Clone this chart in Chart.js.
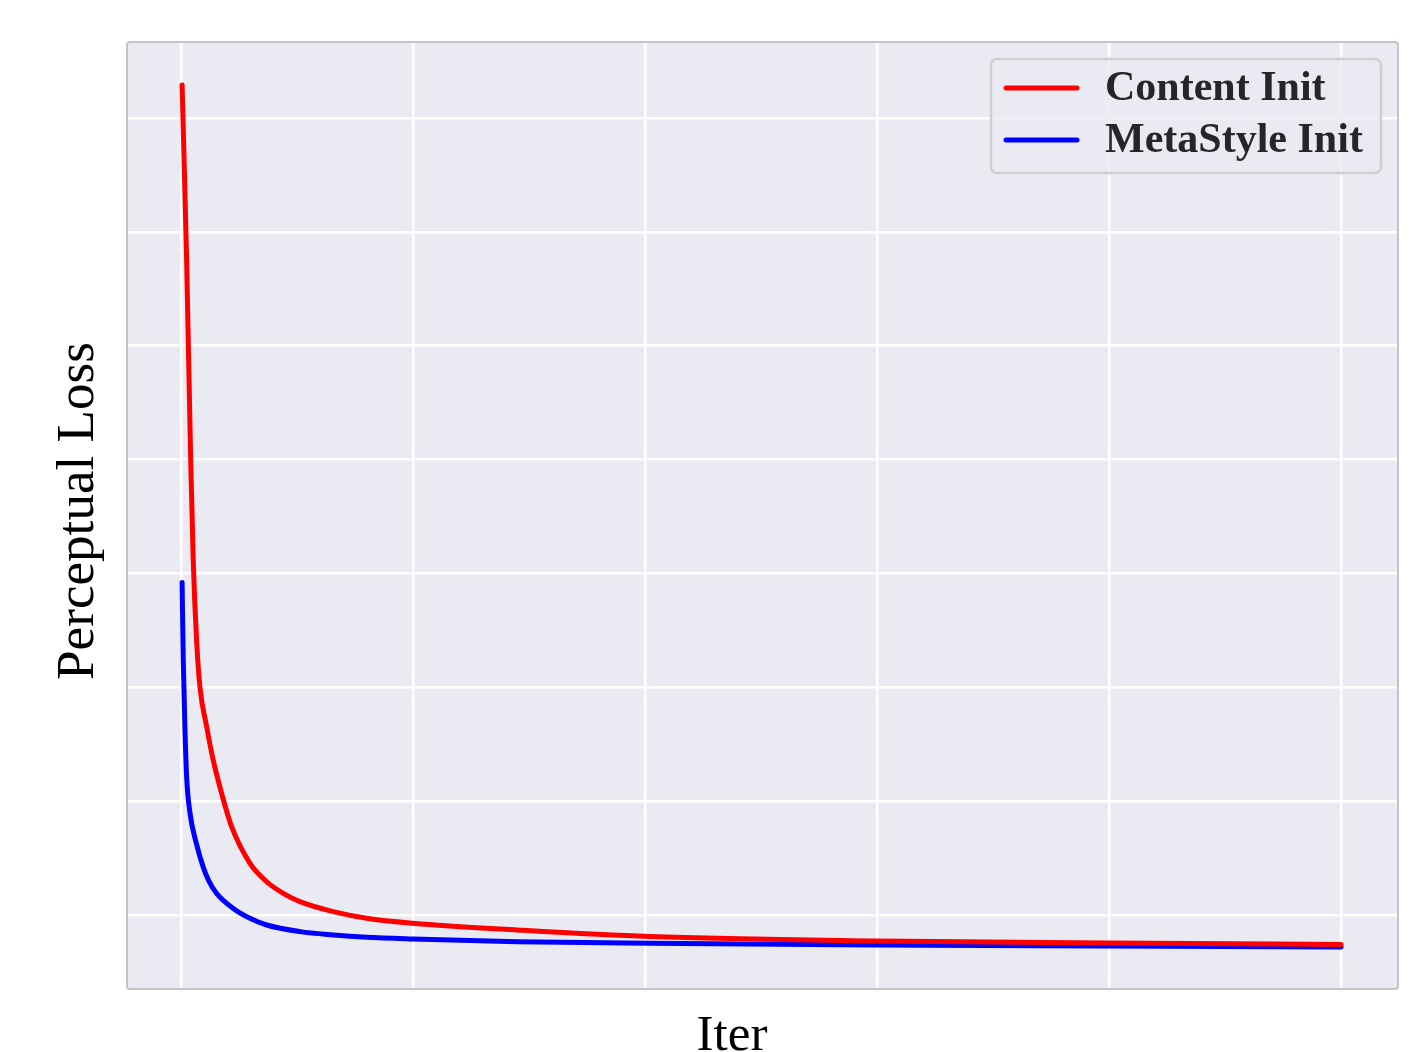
<!DOCTYPE html>
<html>
<head>
<meta charset="utf-8">
<script src="https://cdn.jsdelivr.net/npm/chart.js@4/dist/chart.umd.min.js"></script>
<style>
  html, body { margin:0; padding:0; background:#fff; }
  #wrap { width:1424px; height:1052px; position:relative; }
</style>
</head>
<body>
<div id="wrap"><canvas id="lossChart"></canvas></div>
<script>
// values (loss in grid units, no labels shown)
const xTicks = [0, 200, 400, 600, 800, 1000];
const yTicks = [1, 2, 3, 4, 5, 6, 7, 8];

const contentIter = [1, 4.9, 8.4, 10.6, 13.5, 16.4, 22.2, 27.8, 35.1, 43.7, 59.5, 73.9, 88.2, 102.6, 131.3, 160, 200, 290, 404, 600, 800, 1000];
const contentLoss = [8.29, 6.75, 4.99, 4.11, 3.41, 3.0, 2.652, 2.36, 2.067, 1.775, 1.453, 1.292, 1.19, 1.117, 1.029, 0.971, 0.927, 0.868, 0.81, 0.772, 0.755, 0.741];

const metaIter = [1, 2, 3.4, 4.9, 7.8, 13.5, 19.2, 24, 30.8, 45.1, 59.5, 73.9, 102.6, 131.3, 160, 200, 290, 404, 600, 800, 1000];
const metaLoss = [3.92, 3.237, 2.652, 2.213, 1.895, 1.62, 1.42, 1.3, 1.189, 1.058, 0.971, 0.912, 0.854, 0.825, 0.805, 0.79, 0.766, 0.752, 0.737, 0.728, 0.719];

const seriesLabels = ["Content Init", "MetaStyle Init"];
const seriesColors = ["#ff0000", "#0000ff"];

const toPts = (xs, ys) => xs.map((x, i) => ({ x, y: ys[i] }));

// grey plot background + frame
const panelPlugin = {
  id: "panel",
  beforeDraw(chart) {
    const { ctx, chartArea: a } = chart;
    ctx.save();
    ctx.fillStyle = "#eaeaf2";
    ctx.fillRect(a.left, a.top, a.right - a.left, a.bottom - a.top);
    ctx.restore();
  },
  afterDatasetsDraw(chart) {
    const { ctx, chartArea: a } = chart;
    ctx.save();
    ctx.strokeStyle = "#c4c4c8";
    ctx.lineWidth = 2;
    ctx.beginPath();
    ctx.roundRect(a.left, a.top, a.right - a.left, a.bottom - a.top, 3);
    ctx.stroke();
    ctx.restore();
  }
};

// fit a font size so text gets a given width
function fitFont(ctx, text, weight, family, width) {
  ctx.font = weight + " 100px " + family;
  const w = ctx.measureText(text).width;
  return 100 * width / w;
}

const titlesPlugin = {
  id: "titles",
  afterDraw(chart) {
    const ctx = chart.ctx;
    const fam = '"Liberation Serif", "DejaVu Serif", serif';
    ctx.save();
    ctx.fillStyle = "#000";
    // x title
    let s = fitFont(ctx, "Iter", "normal", fam, 71);
    ctx.font = "normal " + s + "px " + fam;
    ctx.textAlign = "center";
    ctx.textBaseline = "alphabetic";
    ctx.fillText("Iter", 732, 1050);
    // y title
    s = fitFont(ctx, "Perceptual Loss", "normal", fam, 338);
    ctx.font = "normal " + s + "px " + fam;
    ctx.translate(93, 511);
    ctx.rotate(-Math.PI / 2);
    ctx.fillText("Perceptual Loss", 0, 0);
    ctx.restore();
  }
};

const legendPlugin = {
  id: "boxLegend",
  afterDraw(chart) {
    const ctx = chart.ctx;
    const fam = '"Liberation Serif", "DejaVu Serif", serif';
    ctx.save();
    ctx.fillStyle = "rgba(234,234,242,0.85)";
    ctx.strokeStyle = "#cfcfd3";
    ctx.lineWidth = 2.5;
    ctx.beginPath();
    ctx.roundRect(991, 59, 390, 114, 6);
    ctx.fill();
    ctx.stroke();

    const s = fitFont(ctx, "MetaStyle Init", "bold", fam, 258);
    ctx.font = "bold " + s + "px " + fam;
    ctx.textBaseline = "middle";
    ctx.textAlign = "left";
    const rows = [88, 140];
    chart.data.datasets.forEach((ds, i) => {
      const y = rows[i];
      ctx.strokeStyle = ds.borderColor;
      ctx.lineWidth = 5;
      ctx.lineCap = "round";
      ctx.beginPath();
      ctx.moveTo(1006, y);
      ctx.lineTo(1077, y);
      ctx.stroke();
      ctx.fillStyle = "#262626";
      ctx.fillText(ds.label, 1105, y + 1);
    });
    ctx.restore();
  }
};

const ctx = document.getElementById("lossChart").getContext("2d");
new Chart(ctx, {
  type: "line",
  data: {
    datasets: [
      {
        label: seriesLabels[0],
        data: toPts(contentIter, contentLoss),
        borderColor: seriesColors[0],
        borderWidth: 5,
        borderCapStyle: "round",
        borderJoinStyle: "round",
        pointRadius: 0,
        cubicInterpolationMode: "monotone",
        fill: false
      },
      {
        label: seriesLabels[1],
        data: toPts(metaIter, metaLoss),
        borderColor: seriesColors[1],
        borderWidth: 5,
        borderCapStyle: "round",
        borderJoinStyle: "round",
        pointRadius: 0,
        cubicInterpolationMode: "monotone",
        fill: false
      }
    ]
  },
  options: {
    responsive: true,
    maintainAspectRatio: false,
    animation: false,
    layout: { padding: { left: 127, right: 26, top: 42, bottom: 63 } },
    plugins: { legend: { display: false }, tooltip: { enabled: false } },
    scales: {
      x: {
        type: "linear",
        min: -46.5,
        max: 1049,
        afterBuildTicks: (axis) => { axis.ticks = xTicks.map(v => ({ value: v })); },
        ticks: { display: false },
        grid: { color: "#ffffff", lineWidth: 2.5, drawTicks: false },
        border: { display: false }
      },
      y: {
        type: "linear",
        min: 0.35,
        max: 8.667,
        afterBuildTicks: (axis) => { axis.ticks = yTicks.map(v => ({ value: v })); },
        ticks: { display: false },
        grid: { color: "#ffffff", lineWidth: 2.5, drawTicks: false },
        border: { display: false }
      }
    }
  },
  plugins: [panelPlugin, titlesPlugin, legendPlugin]
});
</script>
</body>
</html>
